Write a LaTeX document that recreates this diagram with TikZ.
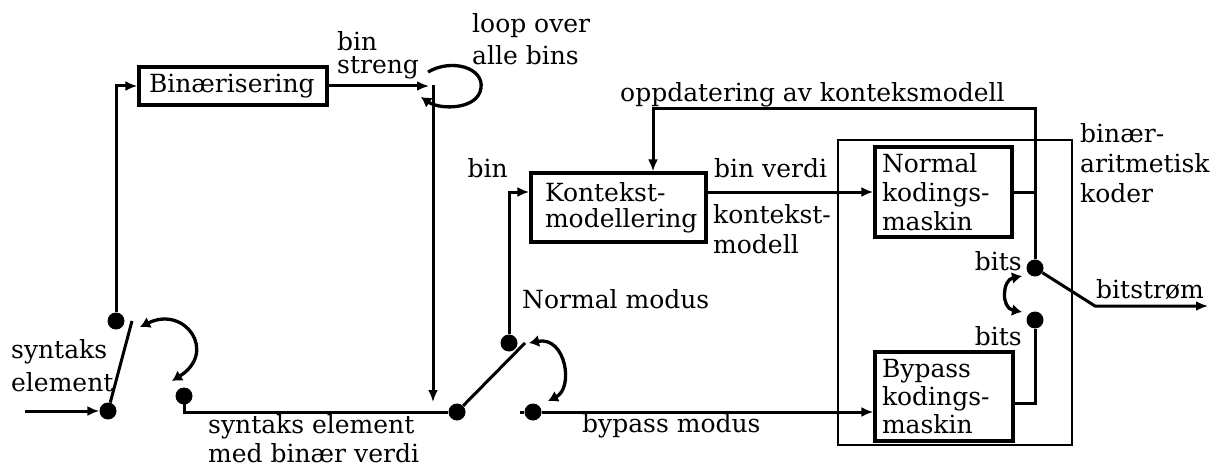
\documentclass[tikz,border=0pt]{standalone}
\usepackage{fontspec}
\setmainfont{DejaVu Serif}
\usetikzlibrary{arrows.meta,calc}
\begin{document}
\begin{tikzpicture}[x=1pt,y=-1pt,
  every node/.style={font=\fontsize{25}{29}\selectfont},
  lbl/.style={inner sep=0pt, anchor=base west, align=left},
  box/.style={draw, line width=3.3pt, inner ysep=0pt, align=left},
  dot/.style={circle, fill, inner sep=0pt, minimum size=17pt},
  ln/.style={line width=3pt},
  arr/.style={ln, -{Latex[length=12pt,width=10pt]}},
  sw/.style={line width=3.3pt, {Latex[length=10pt,width=12pt]}-{Latex[length=10pt,width=12pt]}},
]
\useasboundingbox (0,0) rectangle (1210,468);

% boxes
\node[box, inner xsep=10pt, text width=168pt, minimum height=38pt] (bin) at (233,86) {Binærisering};
\node[box, inner xsep=14pt, text width=147pt, minimum height=69pt, font=\fontsize{25}{26}\selectfont] (kont) at (618.5,207.5) {Kontekst-\\modellering};
\node[box, inner xsep=7pt, text width=123pt, minimum height=90pt] (normal) at (943.5,192) {Normal\\kodings-\\maskin};
\node[box, inner xsep=7pt, text width=124pt, minimum height=89pt, font=\fontsize{25}{28}\selectfont] (bypass) at (944,396.5) {Bypass\\kodings-\\maskin};
\node[draw, line width=1.8pt, inner sep=0pt, minimum width=234pt, minimum height=305pt] (outer) at (955,292.5) {};

% dots
\node[dot] (d1) at (116,321) {};
\node[dot] (d2) at (108,411) {};
\node[dot] (d3) at (184,396) {};
\node[dot] (d4) at (457,412) {};
\node[dot] (d5) at (509,343) {};
\node[dot] (d6) at (533,412) {};
\node[dot] (d7) at (1035,268) {};
\node[dot] (d8) at (1035,320) {};

% labels (base = last line's baseline)
\node[lbl] (lloop) at (472,65) {loop over\\[3pt]alle bins};
\node[lbl] (lstreng) at (337,74) {bin\\[-6pt]streng};
\node[lbl] (lsyn) at (11,391) {syntaks\\[4pt]element};
\node[lbl] (lsynb) at (208,462) {syntaks element\\med binær verdi};
\node[lbl] (lkm) at (713,253) {kontekst-\\[1pt]modell};
\node[lbl] (lbv) at (714,178) {bin verdi};
\node[lbl, anchor=base east] (lbin) at (508,178) {bin};
\node[lbl] (lupd) at (620,102) {oppdatering av konteksmodell};
\node[lbl] (lbac) at (1080,202) {binær-\\[1pt]aritmetisk\\[1pt]koder};
\node[lbl, anchor=base east] (lbits1) at (1022,270) {bits};
\node[lbl, anchor=base east] (lbits2) at (1022,345) {bits};
\node[lbl] (lbs) at (1096,298) {bitstrøm};
\node[lbl] (lnm) at (522,308) {Normal modus};
\node[lbl] (lbm) at (582,432) {bypass modus};

% coordinates
\coordinate (inS) at (25,411);
\coordinate (bl1) at (132,321);
\coordinate (lp) at (429,86);
\coordinate (vt) at (433,85);
\coordinate (vb) at (433,402);
\coordinate (bl2) at (525,343);
\coordinate (st) at (520,412);
\coordinate (fb) at (653,109);
\coordinate (bj) at (1095,306);
\coordinate (bout) at (1208,306);

% connectors
\draw[arr] (inS) -- (d2);
\draw[ln] (d2) -- (bl1);
\draw[arr] (d1) |- (bin.west);
\draw[ln] (d3.center) |- (d4);
\draw[arr] (bin.east) -- (lp);
\draw[arr] (vt) -- (vb);
\draw[ln] (d4) -- (bl2);
\draw[arr] (d5) |- (kont.west |- normal.west);
\draw[arr] (kont.east |- normal.west) -- (normal.west);
\draw[ln] (st) -- (d6);
\draw[arr] (d6) -- (d6 -| bypass.west);
\draw[ln] (normal.east) -- (normal.east -| d7);
\draw[arr] (d7) |- (fb) -- (fb |- kont.north);
\draw[ln] ($(bypass.east)+(0,6.5)$) -| (d8);
\draw[arr] (d7) -- (bj) -- (bout);

% loop and switch arcs
\draw[line width=3.3pt, -{Latex[length=10pt,width=12pt]}] (428,72) .. controls (452,58) and (484,68) .. (481,88) .. controls (478,110) and (440,110) .. (421,97);
\draw[sw] (140,327) .. controls (185,305) and (218,352) .. (172,381);
\draw[sw] (529,343) .. controls (566,336) and (574,388) .. (548,401);
\draw[sw] (1022,276) .. controls (1002,280) and (1001,308) .. (1022,312);
\end{tikzpicture}
\end{document}
